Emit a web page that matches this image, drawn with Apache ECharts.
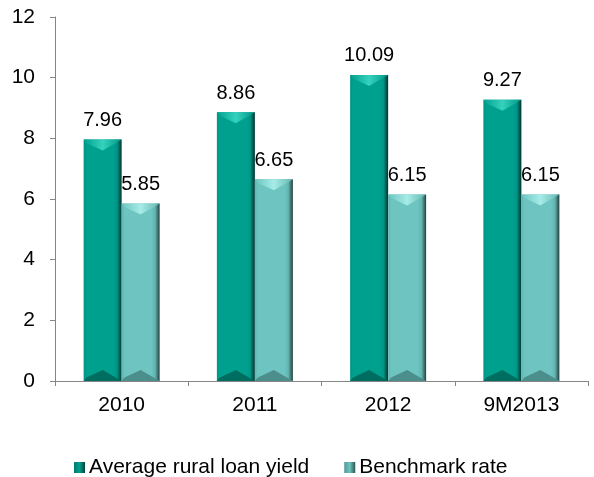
<!DOCTYPE html>
<html>
<head>
<meta charset="utf-8">
<style>
  html, body { margin: 0; padding: 0; background: #ffffff; }
  #chart { width: 594px; height: 477px; }
</style>
<script src="https://cdn.jsdelivr.net/npm/echarts@6/dist/echarts.min.js"></script>
</head>
<body>
<div id="chart"></div>
<script>
// Categories and series values
const categories = ['2010', '2011', '2012', '9M2013'];
const ruralYield = [7.96, 8.86, 10.09, 9.27];
const benchmarkRate = [5.85, 6.65, 6.15, 6.15];
const yTicks = { min: 0, max: 12, interval: 2 };

const FONT = 'Liberation Sans, Arial, sans-serif';
const BAR_W = 38;

// Bevelled column palettes: face, light bevel, dark edge
const palettes = [
  { face: '#00a08e', light: '#35d2bd', mid: '#009585', dark: '#00332d', bottom: '#006d61' },
  { face: '#6dc4c0', light: '#a6ece8', mid: '#63b5b1', dark: '#243f3e', bottom: '#4b8e8b' }
];

function bevelBar(seriesIdx) {
  const pal = palettes[seriesIdx];
  return function (params, api) {
    const cat = api.value(0);
    const val = api.value(1);
    const top = api.coord([cat, val]);
    const base = api.coord([cat, 0]);
    const x0 = top[0] + (seriesIdx === 0 ? -BAR_W : 0);
    const x1 = x0 + BAR_W;
    const y0 = top[1];
    const y1 = base[1];
    const xc = (x0 + x1) / 2;
    const bev = 11;
    const side = 6;
    return {
      type: 'group',
      children: [
        {
          type: 'rect',
          shape: { x: x0, y: y0, width: BAR_W, height: y1 - y0 },
          style: {
            fill: new echarts.graphic.LinearGradient(0, 0, 1, 0, [
              { offset: 0, color: pal.mid },
              { offset: 0.08, color: pal.face },
              { offset: 0.78, color: pal.face },
              { offset: 0.88, color: pal.mid },
              { offset: 1, color: pal.dark }
            ])
          }
        },
        {
          type: 'polygon',
          shape: { points: [[x0, y0], [x1, y0], [x1 - side, y0 + side * 0.6], [xc, y0 + bev], [x0 + side * 0.5, y0 + side * 0.6]] },
          style: {
            fill: new echarts.graphic.LinearGradient(0, 0, 1, 0, [
              { offset: 0, color: pal.face },
              { offset: 0.5, color: pal.light },
              { offset: 1, color: pal.mid }
            ])
          }
        },
        {
          type: 'polygon',
          shape: { points: [[x0, y1], [x1, y1], [x1 - side, y1 - side * 0.6], [xc, y1 - bev], [x0 + side * 0.5, y1 - side * 0.6]] },
          style: { fill: pal.bottom }
        },
        {
          type: 'text',
          style: {
            text: val.toFixed(2),
            x: xc,
            y: y0 - 9,
            align: 'center',
            verticalAlign: 'bottom',
            font: '20px ' + FONT,
            fill: '#000000'
          }
        }
      ]
    };
  };
}

function seriesData(values) {
  return values.map((v, i) => [i, v]);
}

const chart = echarts.init(document.getElementById('chart'), null, { renderer: 'canvas' });

chart.setOption({
  animation: false,
  grid: { left: 55, right: 6, top: 17, bottom: 96, containLabel: false },
  xAxis: {
    type: 'category',
    data: categories,
    axisLine: { lineStyle: { color: '#868686', width: 1 } },
    axisTick: { show: true, length: 5, lineStyle: { color: '#868686' } },
    axisLabel: { color: '#000000', fontSize: 21, fontFamily: FONT, margin: 14 },
    splitLine: { show: false }
  },
  yAxis: {
    type: 'value',
    min: yTicks.min,
    max: yTicks.max,
    interval: yTicks.interval,
    axisLine: { show: true, lineStyle: { color: '#868686', width: 1 } },
    axisTick: { show: true, length: 5, lineStyle: { color: '#868686' } },
    axisLabel: { color: '#000000', fontSize: 21, fontFamily: FONT, margin: 20 },
    splitLine: { show: false }
  },
  legend: {
    left: 69,
    top: 452,
    itemWidth: 11,
    itemHeight: 11,
    itemGap: 35,
    icon: 'rect',
    textStyle: { color: '#000000', fontSize: 21, fontFamily: FONT, padding: [0, 0, 0, -1] },
    data: ['Average rural loan yield', 'Benchmark rate']
  },
  series: [
    {
      name: 'Average rural loan yield',
      type: 'custom',
      renderItem: bevelBar(0),
      data: seriesData(ruralYield),
      encode: { x: 0, y: 1 },
      itemStyle: {
        color: new echarts.graphic.LinearGradient(0, 0, 1, 0, [
          { offset: 0, color: '#007a6c' }, { offset: 0.5, color: '#00a08e' }, { offset: 1, color: '#00443c' }
        ])
      }
    },
    {
      name: 'Benchmark rate',
      type: 'custom',
      renderItem: bevelBar(1),
      data: seriesData(benchmarkRate),
      encode: { x: 0, y: 1 },
      itemStyle: {
        color: new echarts.graphic.LinearGradient(0, 0, 1, 0, [
          { offset: 0, color: '#4f9a97' }, { offset: 0.5, color: '#6dc4c0' }, { offset: 1, color: '#2d5553' }
        ])
      }
    }
  ]
});
</script>
</body>
</html>
